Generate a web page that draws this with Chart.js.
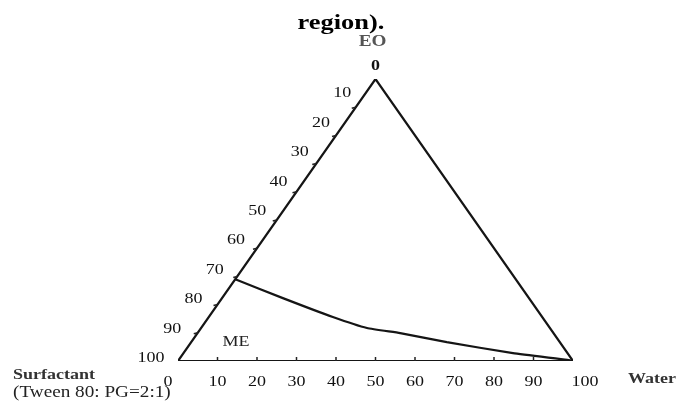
<!DOCTYPE html>
<html>
<head>
<meta charset="utf-8">
<script src="https://cdn.jsdelivr.net/npm/chart.js@4/dist/chart.umd.min.js"></script>
<style>
  html, body { margin: 0; padding: 0; background: #fff; }
  #wrap { width: 679px; height: 416px; }
</style>
</head>
<body>
<div id="wrap"><canvas id="chart" width="679" height="416"></canvas></div>
<script>
// ternary compositions in % (EO, water; surfactant = rest)
const triangleEO = [0, 0, 100, 0];
const triangleWater = [0, 100, 0, 0];

// ME phase boundary
const boundaryEO = [29, 22.3, 15.6, 11.7, 9.9, 6.7, 2.8, 0.4, 0];
const boundaryWater = [0, 15.4, 31.4, 42, 51.3, 64.7, 83.4, 98.3, 100];

const surfactantTicks = [0, 10, 20, 30, 40, 50, 60, 70, 80, 90, 100];
const waterTicks = [0, 10, 20, 30, 40, 50, 60, 70, 80, 90, 100];

const titleText = 'region).';
const apexLabel = 'EO';
const leftLabel = 'Surfactant';
const leftSubLabel = '(Tween 80: PG=2:1)';
const rightLabel = 'Water';
const regionLabel = 'ME';

// ternary -> plot coordinates
const toXY = (eo, water) => ({ x: water + eo / 2, y: eo });

const triangle = triangleEO.map((eo, i) => toXY(eo, triangleWater[i]));
const boundary = boundaryEO.map((eo, i) => toXY(eo, boundaryWater[i]));

const SERIF = '"Liberation Serif", "DejaVu Serif", serif';
const STRETCH = 1.2;

function text(ctx, str, x, y, font, color, align) {
  ctx.save();
  ctx.font = font;
  ctx.fillStyle = color;
  ctx.textAlign = align || 'center';
  ctx.textBaseline = 'middle';
  ctx.translate(x, y);
  ctx.scale(STRETCH, 1);
  ctx.fillText(str, 0, 0);
  ctx.restore();
}

const ternaryAxes = {
  id: 'ternaryAxes',
  afterDatasetsDraw(chart) {
    const ctx = chart.ctx;
    const xs = chart.scales.x, ys = chart.scales.y;
    const px = (eo, water) => {
      const p = toXY(eo, water);
      return [xs.getPixelForValue(p.x), ys.getPixelForValue(p.y)];
    };

    ctx.save();
    ctx.strokeStyle = '#222';
    ctx.lineWidth = 1.5;

    // bottom axis: water %
    waterTicks.forEach(v => {
      const [x, y] = px(0, v);
      if (v > 0 && v < 100) {
        ctx.beginPath();
        ctx.moveTo(x, y);
        ctx.lineTo(x, y - 4);
        ctx.stroke();
      }
      let dx = 0;
      if (v === 0) dx = -10;
      if (v === 100) dx = 12;
      text(ctx, String(v), x + dx, y + 21, '15px ' + SERIF, '#111');
    });

    // left edge: surfactant %
    surfactantTicks.forEach(v => {
      const [x, y] = px(100 - v, 0);
      if (v > 0 && v < 100) {
        ctx.beginPath();
        ctx.moveTo(x, y);
        ctx.lineTo(x - 4, y + 1);
        ctx.stroke();
      }
      let lx = x - 12 - 0.15 * v;
      let ly = y - 15 + 0.12 * v;
      if (v === 0) { lx = x; ly = y - 13; }
      text(ctx, String(v), lx, ly, (v === 0 ? 'bold ' : '') + '15px ' + SERIF, '#111');
    });
    ctx.restore();

    const [ax, ay] = px(100, 0);
    text(ctx, apexLabel, ax - 3, ay - 37, 'bold 16px ' + SERIF, '#555');
    text(ctx, titleText, 341, 23, 'bold 22px ' + SERIF, '#000');
    text(ctx, leftLabel, 13, 375, 'bold 15px ' + SERIF, '#333', 'left');
    text(ctx, leftSubLabel, 13, 393, '16px ' + SERIF, '#222', 'left');
    text(ctx, rightLabel, 652, 379, 'bold 15px ' + SERIF, '#333');
    text(ctx, regionLabel, 236, 342, '15px ' + SERIF, '#222');
  }
};

new Chart(document.getElementById('chart'), {
  type: 'scatter',
  data: {
    datasets: [
      {
        label: 'Triangle',
        data: triangle,
        showLine: true,
        borderColor: '#151515',
        borderWidth: 2.2,
        pointRadius: 0,
        tension: 0
      },
      {
        label: 'ME boundary',
        data: boundary,
        showLine: true,
        borderColor: '#151515',
        borderWidth: 2.2,
        pointRadius: 0,
        tension: 0.15
      }
    ]
  },
  options: {
    responsive: false,
    animation: false,
    layout: { padding: { left: 178, right: 106, top: 79, bottom: 55 } },
    plugins: {
      legend: { display: false },
      tooltip: { enabled: false }
    },
    scales: {
      x: { type: 'linear', min: 0, max: 100, display: false },
      y: { type: 'linear', min: 0, max: 100, display: false }
    }
  },
  plugins: [ternaryAxes]
});
</script>
</body>
</html>
